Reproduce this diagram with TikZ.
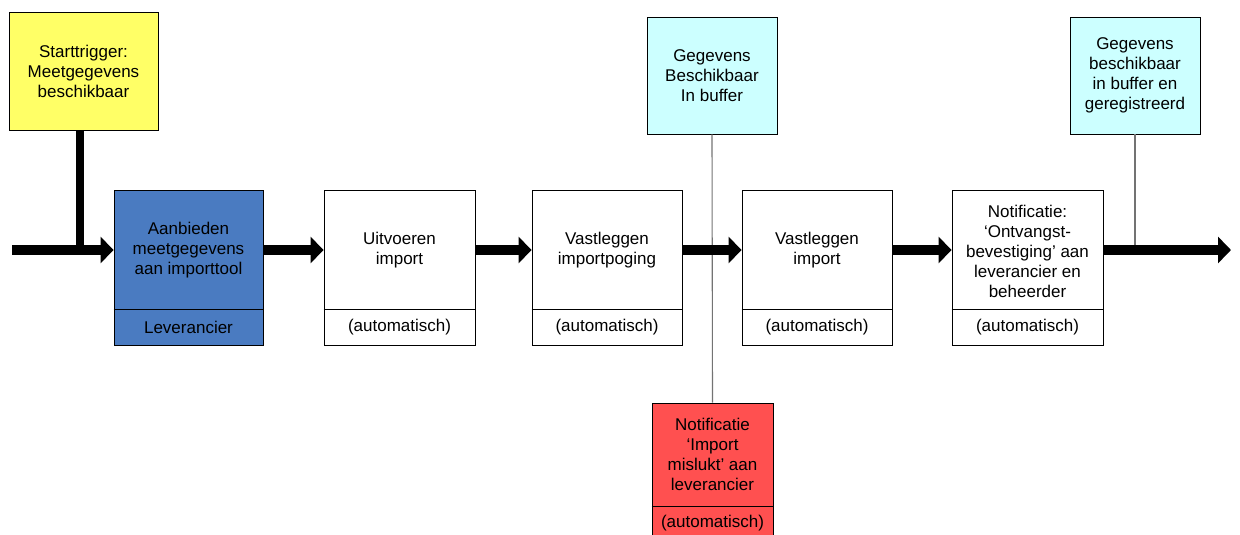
\documentclass[tikz,border=0pt]{standalone}
\usepackage{fontspec}
\setmainfont{Liberation Sans}
\usetikzlibrary{arrows.meta}
\definecolor{cyellow}{HTML}{FFFF66}
\definecolor{cblue}{HTML}{4A7BC1}
\definecolor{ccyan}{HTML}{CCFFFF}
\definecolor{cred}{HTML}{FF5050}
\begin{document}
\begin{tikzpicture}[x=1pt,y=-1pt,
  box/.style={draw=black, line width=0.9pt, inner sep=0pt, fill=white, minimum height=155pt},
  txt/.style={align=center, font=\fontsize{17}{20}\selectfont, inner sep=0pt},
  flow/.style={line width=10pt, -{Triangle[length=13pt,width=26pt]}},
  grayline/.style={draw=black!55, line width=1.1pt},
  divider/.style={draw=black, line width=0.9pt}
]
\useasboundingbox (0,0) rectangle (1240,535);
\clip (0,0) rectangle (1240,535);
\coordinate (m) at (0,250);
\coordinate (start) at (12,250);
\coordinate (finish) at (1231,250);
\coordinate (yj) at (80,254);
\coordinate (cj) at (1135,250);

% boxes
\node[box, fill=cyellow, minimum width=149pt, minimum height=118pt] (ylw) at (83.5,71) {};
\node[box, fill=ccyan, minimum width=130pt, minimum height=117pt] (cy1) at (712,75.5) {};
\node[box, fill=ccyan, minimum width=130pt, minimum height=117pt] (cy2) at (1135,75.5) {};
\node[box, fill=cred, minimum width=121pt, minimum height=142pt] (red) at (712.5,474) {};

% connectors behind
\draw[grayline] (cy1.south) -- (red.north);
\draw[grayline] (cy2.south) -- (cj);
\draw[line width=8pt] (yj |- ylw.south) -- (yj);

\node[box, fill=cblue, minimum width=149pt] (b1) at (188.5,267.5) {};
\node[box, minimum width=151pt] (b2) at (399.5,267.5) {};
\node[box, minimum width=150pt] (b3) at (607,267.5) {};
\node[box, minimum width=150pt] (b4) at (817,267.5) {};
\node[box, minimum width=151pt] (b5) at (1027.5,267.5) {};

% dividers
\foreach \b in {b1,b2,b3,b4,b5}{
  \draw[divider] (\b.west |- 0,309) -- (\b.east |- 0,309);
}
\draw[divider] (red.west |- 0,506) -- (red.east |- 0,506);

% flow arrows
\draw[flow] (start) -- (b1.west |- m);
\draw[flow] (b1.east |- m) -- (b2.west |- m);
\draw[flow] (b2.east |- m) -- (b3.west |- m);
\draw[flow] (b3.east |- m) -- (b4.west |- m);
\draw[flow] (b4.east |- m) -- (b5.west |- m);
\draw[flow] (b5.east |- m) -- (finish);

% texts
\node[txt] at (ylw.center) {Starttrigger:\\Meetgegevens\\beschikbaar};
\node[txt] at (cy1.center) {Gegevens\\Beschikbaar\\In buffer};
\node[txt] at (cy2.center) {Gegevens\\beschikbaar\\in buffer en\\geregistreerd};
\node[txt] at (b1.center |- 0,250) {Aanbieden\\meetgegevens\\aan importtool};
\node[txt] at (b2.center |- 0,250) {Uitvoeren\\import};
\node[txt] at (b3.center |- 0,250) {Vastleggen\\importpoging};
\node[txt] at (b4.center |- 0,250) {Vastleggen\\import};
\node[txt] at (b5.center |- 0,251) {Notificatie:\\‘Ontvangst-\\bevestiging’ aan\\leverancier en\\beheerder};
\node[txt] at (b1.center |- 0,327) {Leverancier};
\foreach \b in {b2,b3,b4,b5}{
  \node[txt] at (\b.center |- 0,327) {(automatisch)};
}
\node[txt] at (red.center |- 0,454) {Notificatie\\‘Import\\mislukt’ aan\\leverancier};
\node[txt] at (red.center |- 0,523) {(automatisch)};
\end{tikzpicture}
\end{document}
